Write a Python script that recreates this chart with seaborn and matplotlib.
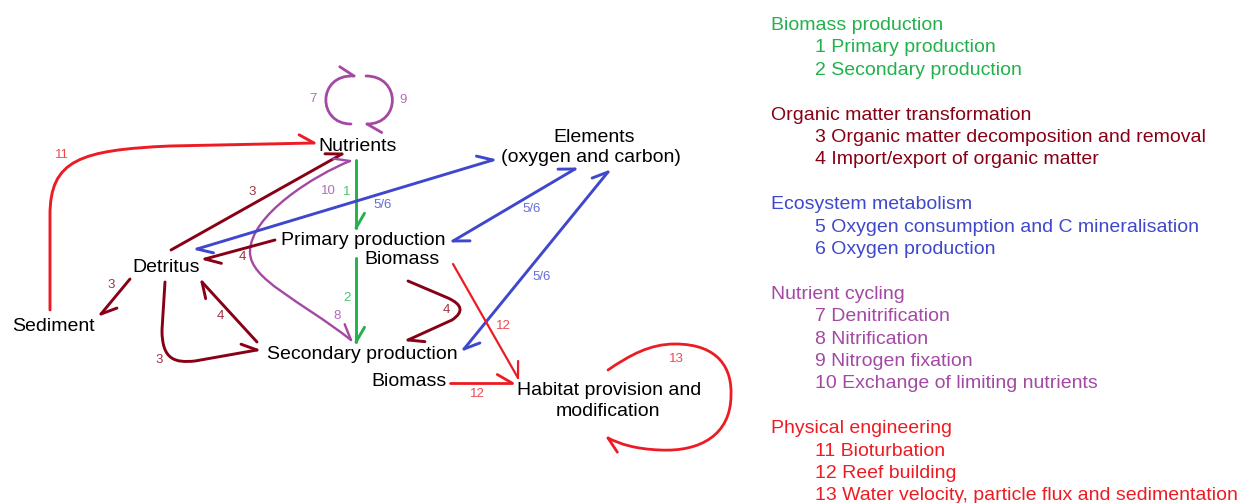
import numpy as np
import matplotlib
matplotlib.use("Agg")
import matplotlib.pyplot as plt
from matplotlib.path import Path
from matplotlib.patches import PathPatch
import seaborn as sns

# ---------------- data ----------------
group_names = ["Biomass production", "Organic matter transformation",
               "Ecosystem metabolism", "Nutrient cycling", "Physical engineering"]
group_hex = ["#22B14C", "#880015", "#3F48CC", "#A349A4", "#ED1C24"]
group_items = [
    ["1 Primary production", "2 Secondary production"],
    ["3 Organic matter decomposition and removal", "4 Import/export of organic matter"],
    ["5 Oxygen consumption and C mineralisation", "6 Oxygen production"],
    ["7 Denitrification", "8 Nitrification", "9 Nitrogen fixation",
     "10 Exchange of limiting nutrients"],
    ["11 Bioturbation", "12 Reef building",
     "13 Water velocity, particle flux and sedimentation"],
]

# node labels (pixel space: x, baseline y)
node_text = ["Nutrients", "Elements", "(oxygen and carbon)", "Primary production",
             "Biomass", "Detritus", "Sediment", "Secondary production", "Biomass",
             "Habitat provision and", "modification"]
node_x = [358, 594, 591, 363, 402, 166, 53, 362, 409, 609, 608]
node_y = [151, 142, 162, 245, 264, 272, 331, 359, 386, 395, 416]

# process numbers on the arrows
num_text = ["7", "9", "11", "3", "10", "1", "5/6", "4", "3", "2", "8", "4", "3",
            "4", "5/6", "5/6", "12", "12", "13"]
num_group = [3, 3, 4, 1, 3, 0, 2, 1, 1, 0, 3, 1, 1, 1, 2, 2, 4, 4, 4]
num_x = [313, 403, 62, 252, 328, 347, 383, 242, 111, 347, 337, 220, 159, 446,
         532, 542, 503, 477, 676]
num_y = [99, 100, 155, 192, 191, 192, 205, 257, 285, 298, 316, 316, 360, 310,
         209, 277, 326, 394, 359]

# arrows: vertices, path codes ("M" move, "L" line, "C" cubic, "Q" quadratic)
edge_verts = [
    [(50, 310), (50, 215), (50, 160), (80, 150), (170, 146), (314, 143)],      # 11
    [(171, 250), (342, 154)],                                                  # 3
    [(350, 161), (315, 175), (250, 215), (250, 252), (250, 280), (300, 300), (351, 340)],  # 10/8
    [(356, 160), (356, 228)],                                                  # 1
    [(356, 258), (356, 342)],                                                  # 2
    [(197, 249), (493, 160)],                                                  # 5/6
    [(453, 241), (575, 169)],                                                  # 5/6
    [(464, 349), (608, 172)],                                                  # 5/6
    [(275, 240), (205, 259)],                                                  # 4
    [(130, 279), (101, 314)],                                                  # 3
    [(165, 282), (162, 330), (162, 360), (175, 363), (195, 361), (257, 350)],  # 3
    [(257, 342), (202, 282)],                                                  # 4
    [(408, 281), (448, 298), (470, 308), (452, 320), (408, 340)],              # 4
    [(453, 264), (518, 378)],                                                  # 12
    [(450, 383), (512, 383)],                                                  # 12
    [(608, 370), (630, 355), (650, 344), (675, 344), (720, 344), (732, 370),
     (731, 395), (731, 435), (700, 452), (660, 450), (635, 449), (620, 444),
     (608, 438)],                                                              # 13
    [(351, 124), (317, 124), (317, 74), (354, 76)],                            # 7
    [(366, 76), (401, 76), (401, 124), (367, 124)],                            # 9
]
edge_codes = ["MLCCCL", "ML", "MCCCCCC", "ML", "ML", "ML", "ML", "ML", "ML", "ML",
              "MLCCCL", "ML", "MLQQL", "ML", "ML", "MCCCCCCCCCCCC", "MCCC", "MCCC"]
edge_group = [4, 1, 3, 0, 0, 2, 2, 2, 1, 1, 1, 1, 1, 4, 4, 4, 3, 3]
edge_heads = ["end", "end", "both", "end", "end", "both", "both", "both", "end",
              "end", "end", "end", "end", "end", "end", "end", "end", "end"]
edge_lw = [2.1, 2.1, 1.7, 2.1, 2.1, 2.1, 2.1, 2.1, 2.1, 2.1, 2.1, 2.1, 2.1,
           1.6, 2.0, 2.0, 2.0, 2.0]

# ---------------- drawing ----------------
sns.set_theme(style="white")
plt.rcParams["font.family"] = ["Liberation Sans", "DejaVu Sans"]
palette = sns.color_palette(group_hex)

W, H = 1254, 503
fig = plt.figure(figsize=(W / 100, H / 100), dpi=100)
ax = fig.add_axes([0, 0, 1, 1])
ax.set_xlim(0, W)
ax.set_ylim(H, 0)
ax.axis("off")

code_map = {"M": Path.MOVETO, "L": Path.LINETO, "C": Path.CURVE4, "Q": Path.CURVE3}


def draw_barb(tip, toward, color, lw, length=17.0, angle=30.0):
    tip = np.asarray(tip, float)
    b = np.asarray(toward, float) - tip
    b /= np.linalg.norm(b)
    t = np.deg2rad(angle)
    r = np.array([b[0] * np.cos(t) - b[1] * np.sin(t),
                  b[0] * np.sin(t) + b[1] * np.cos(t)])
    end = tip + length * r
    ax.plot([tip[0], end[0]], [tip[1], end[1]], color=color, lw=lw,
            solid_capstyle="round", zorder=3)


for verts, codes, g, heads, lw in zip(edge_verts, edge_codes, edge_group,
                                      edge_heads, edge_lw):
    col = palette[g]
    path = Path(verts, [code_map[c] for c in codes])
    ax.add_patch(PathPatch(path, facecolor="none", edgecolor=col, lw=lw,
                           capstyle="round", joinstyle="round", zorder=3))
    draw_barb(verts[-1], verts[-2], col, lw)
    if heads == "both":
        draw_barb(verts[0], verts[1], col, lw)

for t, x, y in zip(node_text, node_x, node_y):
    ax.text(x, y, t, ha="center", va="baseline", fontsize=14, color="black", zorder=4)

for t, g, x, y in zip(num_text, num_group, num_x, num_y):
    ax.text(x, y, t, ha="center", va="center", fontsize=9.5, color=palette[g],
            alpha=0.8, zorder=4)

# legend (right side)
line = 0
for name, items, col in zip(group_names, group_items, palette):
    ax.text(771, 30 + 22.4 * line, name, ha="left", va="baseline", fontsize=14, color=col)
    line += 1
    for it in items:
        ax.text(815, 30 + 22.4 * line, it, ha="left", va="baseline", fontsize=14, color=col)
        line += 1
    line += 1

fig.savefig("out.png", dpi=100, facecolor="white")
